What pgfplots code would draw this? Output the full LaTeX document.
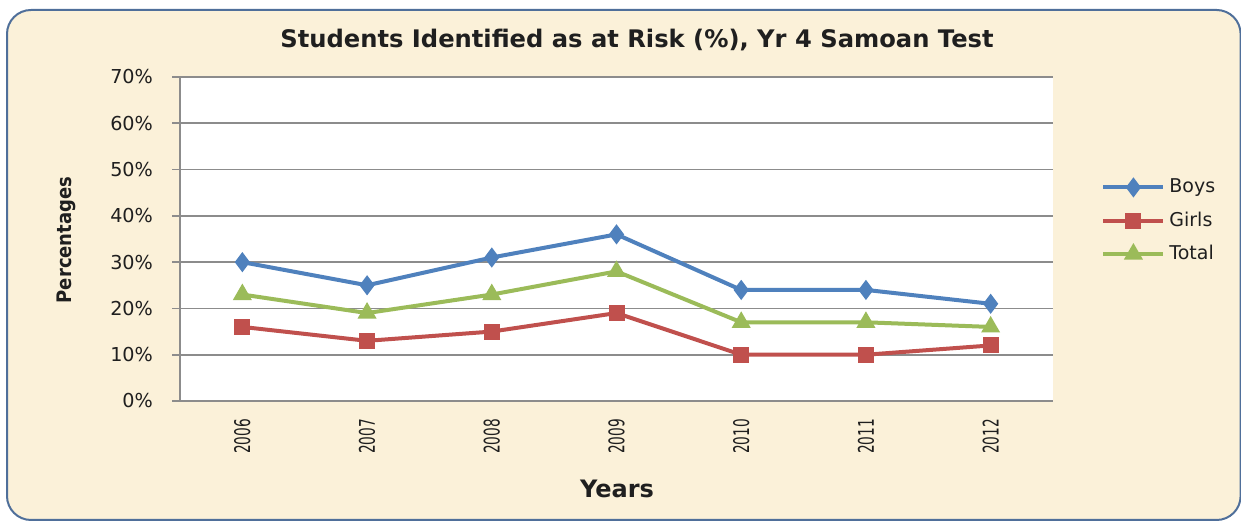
\documentclass[border=0pt]{standalone}
\usepackage{pgfplots}
\pgfplotsset{compat=1.18}
\usepackage{graphicx}
\usepackage{fontspec}
\setmainfont{DejaVu Sans}
\newfontfamily\condfont{DejaVu Sans Condensed}
\definecolor{bgfill}{HTML}{FBF1D9}
\definecolor{bgedge}{HTML}{4F6F9A}
\definecolor{boys}{HTML}{4F81BD}
\definecolor{girls}{HTML}{C0504D}
\definecolor{total}{HTML}{9BBB59}
\definecolor{gridc}{HTML}{8C8C8C}
\definecolor{txt}{HTML}{1F1F1F}
\newcommand{\yr}[1]{\scalebox{0.95}[1.35]{#1}}
\begin{document}
\begin{tikzpicture}[x=1pt,y=1pt]
\useasboundingbox (0,0) rectangle (620.5,261.5);
\fill[bgfill, draw=bgedge, line width=1pt, rounded corners=12pt] (3.5,1.5) rectangle (620.3,256.5);
\begin{axis}[
  at={(90pt,61pt)}, anchor=south west,
  scale only axis, width=436.5pt, height=162pt,
  xmin=-0.5, xmax=6.5, ymin=0, ymax=70,
  axis background/.style={fill=white},
  axis x line*=bottom, axis y line*=left,
  axis line style={draw=gridc, line width=0.8pt},
  ytick={0,10,...,70},
  yticklabel={\pgfmathprintnumber{\tick}\%},
  /pgf/number format/assume math mode=true,
  yticklabel style={font=\fontsize{9.6}{11}\selectfont, text=txt},
  yticklabel shift=6pt,
  ytick style={draw=gridc, line width=0.8pt},
  tick align=outside, major tick length=4pt,
  ymajorgrids, grid style={draw=gridc, line width=0.8pt},
  xtick={0,...,6},
  xticklabels={\yr{2006},\yr{2007},\yr{2008},\yr{2009},\yr{2010},\yr{2011},\yr{2012}},
  xtick style={draw=none},
  xticklabel style={rotate=90, anchor=east, font=\condfont\fontsize{8}{9}\selectfont, text=txt},
  xticklabel shift=1.5pt,
  clip=false,
  legend style={at={(1.055,0.556)}, anchor=west, draw=none, fill=none,
    font=\fontsize{9.5}{11}\selectfont, text=txt, row sep=4pt, inner sep=0pt},
  legend cell align=left,
  legend image code/.code={\draw[mark repeat=2,mark phase=2,#1] plot coordinates {(0pt,0pt)(15pt,0pt)(30pt,0pt)};},
  every axis plot/.append style={line width=2pt},
]
\addplot[boys, mark=diamond*, mark size=3.4pt, mark options={solid}] coordinates {(0,30)(1,25)(2,31)(3,36)(4,24)(5,24)(6,21)};
\addlegendentry{Boys}
\addplot[girls, mark=square*, mark size=3pt] coordinates {(0,16)(1,13)(2,15)(3,19)(4,10)(5,10)(6,12)};
\addlegendentry{Girls}
\addplot[total, mark=triangle*, mark size=3.5pt] coordinates {(0,23)(1,19)(2,23)(3,28)(4,17)(5,17)(6,16)};
\addlegendentry{Total}
\end{axis}
\node[font=\bfseries\fontsize{12.1}{14}\selectfont, text=txt] at (318.5,241.5) {Students Identified as at Risk (\%), Yr 4 Samoan Test};
\node[font=\bfseries\fontsize{12}{14}\selectfont, text=txt] at (308.5,17) {Years};
\node[font=\condfont\bfseries\fontsize{10}{12}\selectfont, text=txt, rotate=90] at (33,141.5) {Percentages};
\end{tikzpicture}
\end{document}
